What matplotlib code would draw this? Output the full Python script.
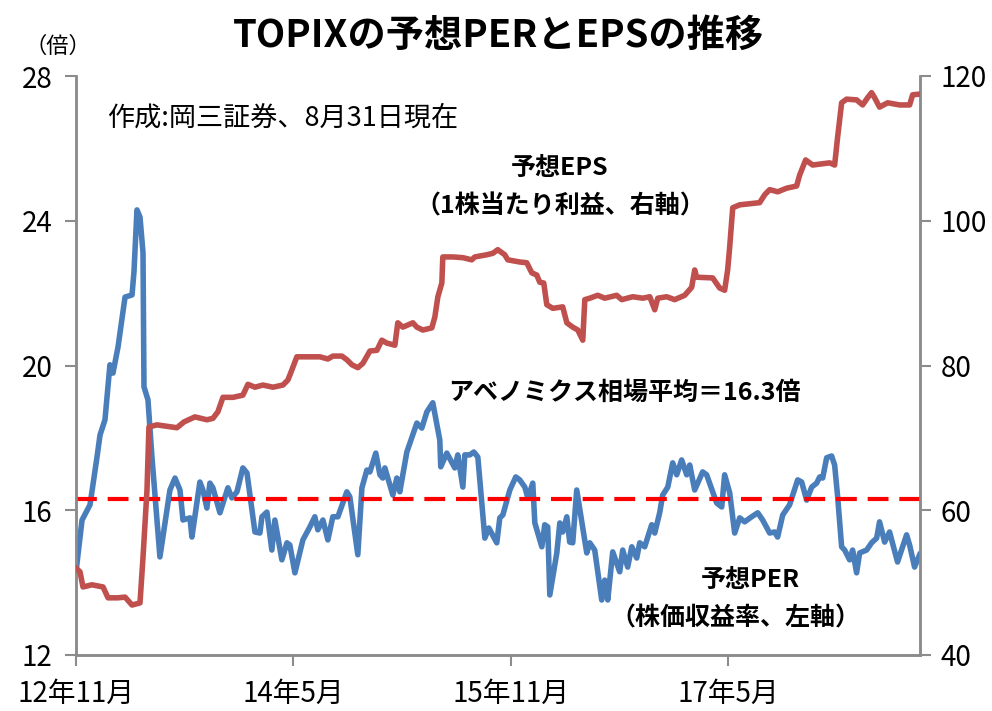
import matplotlib
matplotlib.use('Agg')
import matplotlib.pyplot as plt

plt.rcParams['font.family'] = ['Noto Sans CJK JP', 'DejaVu Sans']

# x = months since Nov 2012
per_month = [0.0, 0.5, 1.16, 1.74, 1.99, 2.4, 2.81, 3.06, 3.48, 4.06, 4.64, 4.8, 5.05, 5.3, 5.55, 5.63,
             5.96, 6.29, 6.95, 7.78, 8.2, 8.61, 8.86, 9.44, 9.6, 10.26, 10.51, 10.84, 11.09, 11.34, 11.92,
             12.58, 12.91, 13.33, 13.82, 14.16, 14.82, 15.23, 15.4, 15.81, 16.22, 16.47, 17.05, 17.47, 17.71,
             18.13, 18.79, 19.37, 19.78, 20.03, 20.45, 20.86, 21.27, 21.69, 22.43, 22.68, 23.34, 23.68, 24.09,
             24.34, 24.83, 25.17, 25.41, 25.58, 26.24, 26.57, 26.82, 27.4, 28.23, 28.64, 29.06, 29.55, 30.13,
             30.21, 30.71, 31.37, 31.62, 32.04, 32.2, 32.62, 32.95, 33.28, 33.86, 34.19, 34.85, 35.1, 35.35,
             35.93, 36.42, 36.75, 37.17, 37.42, 37.83, 38.0, 38.58, 38.82, 39.07, 39.24, 39.82, 40.07, 40.31,
             40.65, 40.89, 41.14, 41.47, 42.3, 42.55, 42.96, 43.54, 43.79, 44.04, 44.45, 45.03, 45.28, 45.69,
             46.03, 46.44, 46.69, 47.1, 47.68, 47.93, 48.34, 48.59, 49.01, 49.42, 49.75, 50.16, 50.58, 50.83,
             51.24, 51.9, 52.23, 53.06, 53.48, 53.72, 54.14, 54.55, 54.97, 55.38, 55.96, 56.46, 56.87, 57.45,
             57.86, 58.11, 58.53, 59.1, 59.77, 60.1, 60.51, 60.93, 61.34, 61.59, 61.84, 62.17, 62.58, 62.83,
             63.08, 63.41, 63.66, 64.07, 64.32, 64.65, 64.9, 65.48, 65.89, 66.31, 66.55, 66.97, 67.38, 68.04,
             68.79, 69.04, 69.45, 69.87]
per_value = [14.3, 15.73, 16.15, 17.47, 18.08, 18.5, 20.02, 19.79, 20.51, 21.89, 21.95, 22.58, 24.3, 24.1,
             23.11, 19.41, 19.05, 17.47, 14.71, 16.56, 16.89, 16.56, 15.73, 15.79, 15.26, 16.78, 16.56, 16.06,
             16.75, 16.62, 15.93, 16.62, 16.34, 16.51, 17.17, 17.03, 15.4, 15.37, 15.82, 15.95, 14.9, 15.73,
             14.63, 15.1, 15.04, 14.27, 15.18, 15.54, 15.82, 15.46, 15.73, 15.18, 15.82, 15.82, 16.51, 16.37,
             14.77, 16.62, 17.11, 17.06, 17.58, 16.98, 16.89, 17.17, 16.42, 16.89, 16.51, 17.61, 18.41, 18.27,
             18.72, 18.97, 17.94, 17.2, 17.58, 17.17, 17.53, 16.64, 17.53, 17.53, 17.61, 17.47, 15.23, 15.51,
             15.1, 15.79, 15.87, 16.56, 16.92, 16.84, 16.64, 16.34, 16.75, 15.65, 14.99, 15.6, 15.54, 13.66,
             14.82, 15.65, 15.4, 15.82, 15.12, 15.1, 16.56, 14.82, 15.1, 14.9, 13.52, 14.07, 13.52, 14.85,
             14.3, 14.9, 14.43, 14.99, 14.68, 15.1, 14.99, 15.6, 15.37, 15.93, 16.42, 16.64, 17.31, 16.98,
             17.39, 16.98, 17.25, 16.56, 17.06, 16.98, 16.2, 16.09, 16.98, 16.48, 15.37, 15.79, 15.68, 15.82,
             15.93, 15.73, 15.37, 15.4, 15.26, 15.87, 16.15, 16.84, 16.78, 16.28, 16.64, 16.75, 16.92, 16.89,
             17.45, 17.5, 17.25, 16.37, 14.99, 14.9, 14.63, 14.9, 14.27, 14.82, 14.9, 15.1, 15.23, 15.68,
             15.12, 15.4, 14.57, 15.32, 15.04, 14.43, 14.77]

eps_month = [0.0, 0.33, 0.58, 1.32, 2.24, 2.65, 3.48, 4.06, 4.64, 5.3, 5.55, 5.88, 6.04, 6.7, 8.36, 8.94,
             9.85, 10.84, 11.34, 11.75, 12.17, 13.0, 13.82, 14.24, 14.82, 15.48, 16.31, 17.14, 17.55, 17.88,
             18.29, 19.12, 20.2, 20.86, 21.27, 22.02, 22.43, 22.85, 23.34, 23.76, 24.34, 24.92, 25.33, 25.74,
             26.41, 26.65, 27.07, 27.9, 28.23, 28.72, 29.47, 29.72, 29.97, 30.3, 30.38, 31.21, 32.04, 32.78,
             33.03, 34.02, 34.52, 34.93, 35.51, 35.76, 36.75, 37.33, 37.75, 38.16, 38.41, 38.74, 38.99, 39.49,
             40.31, 40.65, 41.14, 41.56, 41.97, 42.14, 42.55, 43.21, 43.79, 44.78, 45.2, 46.11, 46.94, 47.52,
             47.93, 48.18, 48.92, 49.58, 50.41, 50.99, 51.24, 51.4, 52.73, 53.31, 53.72, 53.97, 54.14, 54.39,
             54.97, 56.62, 57.04, 57.45, 58.11, 58.86, 59.68, 59.93, 60.43, 61.01, 62.42, 62.83, 63.08, 63.41,
             63.82, 64.65, 65.15, 65.56, 65.89, 66.14, 66.55, 67.22, 68.21, 69.04, 69.29, 69.87]
eps_value = [52.0, 51.5, 49.4, 49.7, 49.4, 47.9, 47.9, 48.0, 46.9, 47.2, 53.5, 62.8, 71.5, 71.8, 71.4, 72.2,
             72.9, 72.5, 72.7, 73.6, 75.6, 75.6, 75.9, 77.4, 77.0, 77.3, 77.0, 77.3, 78.0, 79.4,
             81.2, 81.2, 81.2, 80.9, 81.3, 81.3, 80.8, 80.1, 79.7, 80.3, 82.0, 82.1, 83.5, 83.1,
             82.8, 85.9, 85.3, 85.9, 85.3, 84.9, 85.2, 86.7, 89.5, 91.4, 95.0, 95.0, 94.9, 94.6,
             95.0, 95.3, 95.5, 96.0, 95.3, 94.6, 94.3, 94.2, 92.8, 92.5, 91.5, 91.4, 88.4, 87.9,
             88.1, 85.9, 85.3, 84.9, 83.5, 89.1, 89.3, 89.7, 89.3, 89.7, 89.1, 89.5, 89.3, 89.5,
             87.7, 89.3, 89.5, 89.1, 89.7, 90.8, 93.2, 92.2, 92.1, 90.7, 90.4, 93.2, 96.4, 101.8,
             102.2, 102.5, 103.6, 104.3, 104.0, 104.5, 104.8, 106.3, 108.4, 107.7, 108.0, 107.7, 111.6, 116.3,
             116.8, 116.7, 116.0, 117.0, 117.7, 117.0, 115.7, 116.3, 116.0, 116.0, 117.4, 117.5]

abenomics_avg = 16.3
tick_months = [0, 18, 36, 54]
tick_labels = ['12年11月', '14年5月', '15年11月', '17年5月']

W, H = 992, 711
fig = plt.figure(figsize=(9.92, 7.11), dpi=100)
ax = fig.add_axes([76 / W, 1 - 655 / H, (920 - 76) / W, (655 - 76) / H])
ax2 = ax.twinx()

ax.plot(per_month, per_value, color='#4A7EBB', lw=4, solid_joinstyle='round', zorder=3)
ax.plot([0, 69.9], [abenomics_avg, abenomics_avg], color='#FF0000', lw=3, dashes=(5, 2.6), zorder=4)
ax2.plot(eps_month, eps_value, color='#C0504D', lw=4, solid_joinstyle='round', zorder=3)

ax.set_xlim(0, 69.9)
ax.set_ylim(12, 28)
ax2.set_ylim(40, 120)
ax.set_yticks([12, 16, 20, 24, 28])
ax2.set_yticks([40, 60, 80, 100, 120])
ax.set_xticks(tick_months)
ax.set_xticklabels(tick_labels)

gray = '#8C8C8C'
for a in (ax, ax2):
    a.spines['top'].set_visible(False)
    for s in ('left', 'right', 'bottom'):
        a.spines[s].set_color(gray)
        a.spines[s].set_linewidth(1.8)
    a.tick_params(colors=gray, labelcolor='black', labelsize=20, length=8, width=1.5, direction='out')
ax.tick_params(axis='y', pad=9)
ax2.tick_params(axis='y', pad=7)
ax.tick_params(axis='x', pad=9)

fig.text(498 / W, 1 - 35 / H, 'TOPIXの予想PERとEPSの推移', ha='center', va='center',
         fontsize=27.5, fontweight='bold')
fig.text(58 / W, 1 - 46 / H, '（倍）', ha='center', va='center', fontsize=16)
fig.text(107 / W, 1 - 118 / H, '作成:岡三証券、8月31日現在', ha='left', va='center', fontsize=19.5)
fig.text(560 / W, 1 - 168 / H, '予想EPS', ha='center', va='center', fontsize=18, fontweight='bold')
fig.text(560 / W, 1 - 206 / H, '（1株当たり利益、右軸）', ha='center', va='center', fontsize=18,
         fontweight='bold')
fig.text(448 / W, 1 - 393 / H, 'アベノミクス相場平均＝16.3倍', ha='left', va='center', fontsize=18,
         fontweight='bold')
fig.text(750 / W, 1 - 580 / H, '予想PER', ha='center', va='center', fontsize=18, fontweight='bold')
fig.text(735 / W, 1 - 618 / H, '（株価収益率、左軸）', ha='center', va='center', fontsize=18,
         fontweight='bold')

fig.savefig('out.png', dpi=100)
